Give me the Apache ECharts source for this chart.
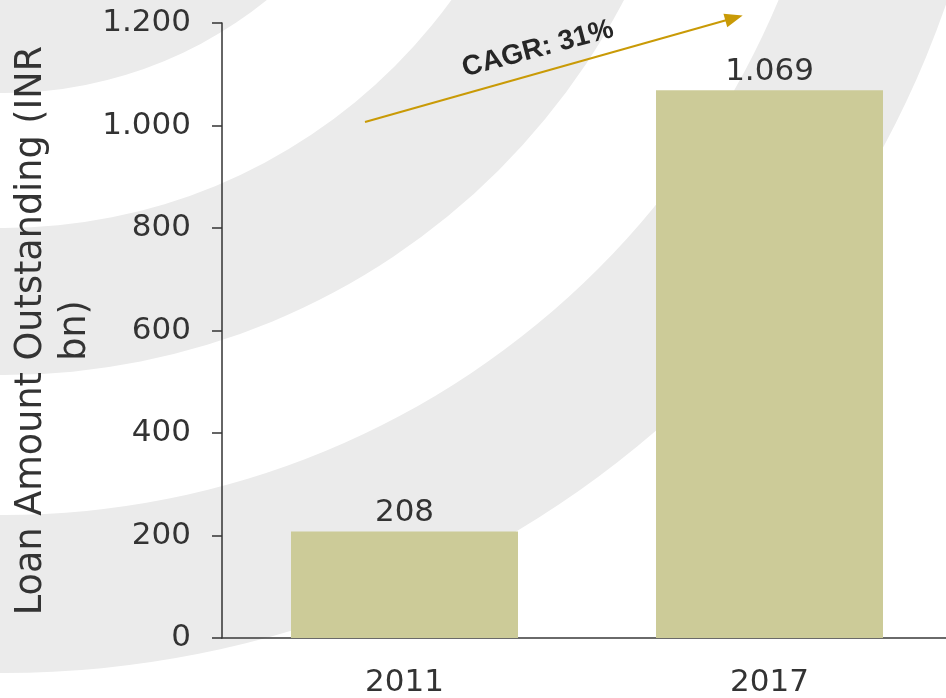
<!DOCTYPE html>
<html>
<head>
<meta charset="utf-8">
<script src="https://cdn.jsdelivr.net/npm/echarts@6/dist/echarts.min.js"></script>
<style>
  html, body { margin: 0; padding: 0; background: #fff; }
  #chart { width: 946px; height: 698px; }
</style>
</head>
<body>
<div id="chart"></div>
<script>
// data
const years = ['2011', '2017'];
const loans = [208, 1069];
const yTicks = [0, 200, 400, 600, 800, 1000, 1200];

// 1.069 style numbers
function dotted(v) {
    return String(v).replace(/\B(?=(\d{3})+(?!\d))/g, '.');
}

const chart = echarts.init(document.getElementById('chart'));

// grey watermark arcs behind the chart
const arcCenter = [4, -325];
const bands = [[0, 418], [553, 700], [840, 998]];

chart.setOption({
    animation: false,
    textStyle: { fontFamily: 'DejaVu Sans' },
    graphic: bands.map(b => ({
        type: 'ring',
        z: -10,
        silent: true,
        shape: { cx: arcCenter[0], cy: arcCenter[1], r: b[1], r0: b[0] },
        style: { fill: '#ebebeb' }
    })).concat([{
        type: 'text',
        x: 538,
        y: 49,
        rotation: 0.262,
        z: 10,
        style: {
            text: 'CAGR: 31%',
            font: 'bold 28px "Liberation Sans"',
            fill: '#262626',
            align: 'center',
            verticalAlign: 'middle'
        }
    }]),
    grid: { left: 222, right: -6, top: 23, bottom: 60, outerBoundsMode: 'none' },
    xAxis: {
        type: 'category',
        data: years,
        axisLine: { lineStyle: { color: '#3a3a3a', width: 1.5 } },
        axisTick: { show: false },
        axisLabel: { color: '#333', fontSize: 31, margin: 29 }
    },
    yAxis: {
        type: 'value',
        min: yTicks[0],
        max: yTicks[yTicks.length - 1],
        interval: yTicks[1] - yTicks[0],
        name: 'Loan Amount Outstanding (INR\nbn)',
        nameLocation: 'middle',
        nameGap: 125,
        nameMoveOverlap: false,
        nameTextStyle: { color: '#333', fontSize: 36.6, lineHeight: 44 },
        axisLine: { show: true, lineStyle: { color: '#333', width: 1.5 } },
        axisTick: { show: true, length: 10, lineStyle: { color: '#333', width: 1.5 } },
        splitLine: { show: false },
        axisLabel: { color: '#333', fontSize: 31, margin: 31, formatter: dotted }
    },
    series: [{
        type: 'bar',
        data: loans,
        barWidth: 227,
        itemStyle: { color: '#cccb98' },
        label: {
            show: true,
            position: 'top',
            distance: 3,
            color: '#333',
            fontSize: 31,
            formatter: p => dotted(p.value)
        },
        markLine: {
            silent: true,
            symbol: ['none', 'triangle'],
            symbolSize: [14, 18],
            label: { show: false },
            lineStyle: { color: '#c99a06', width: 2, type: 'solid' },
            data: [[{ x: 365, y: 122 }, { x: 734, y: 18 }]]
        }
    }]
});
</script>
</body>
</html>
